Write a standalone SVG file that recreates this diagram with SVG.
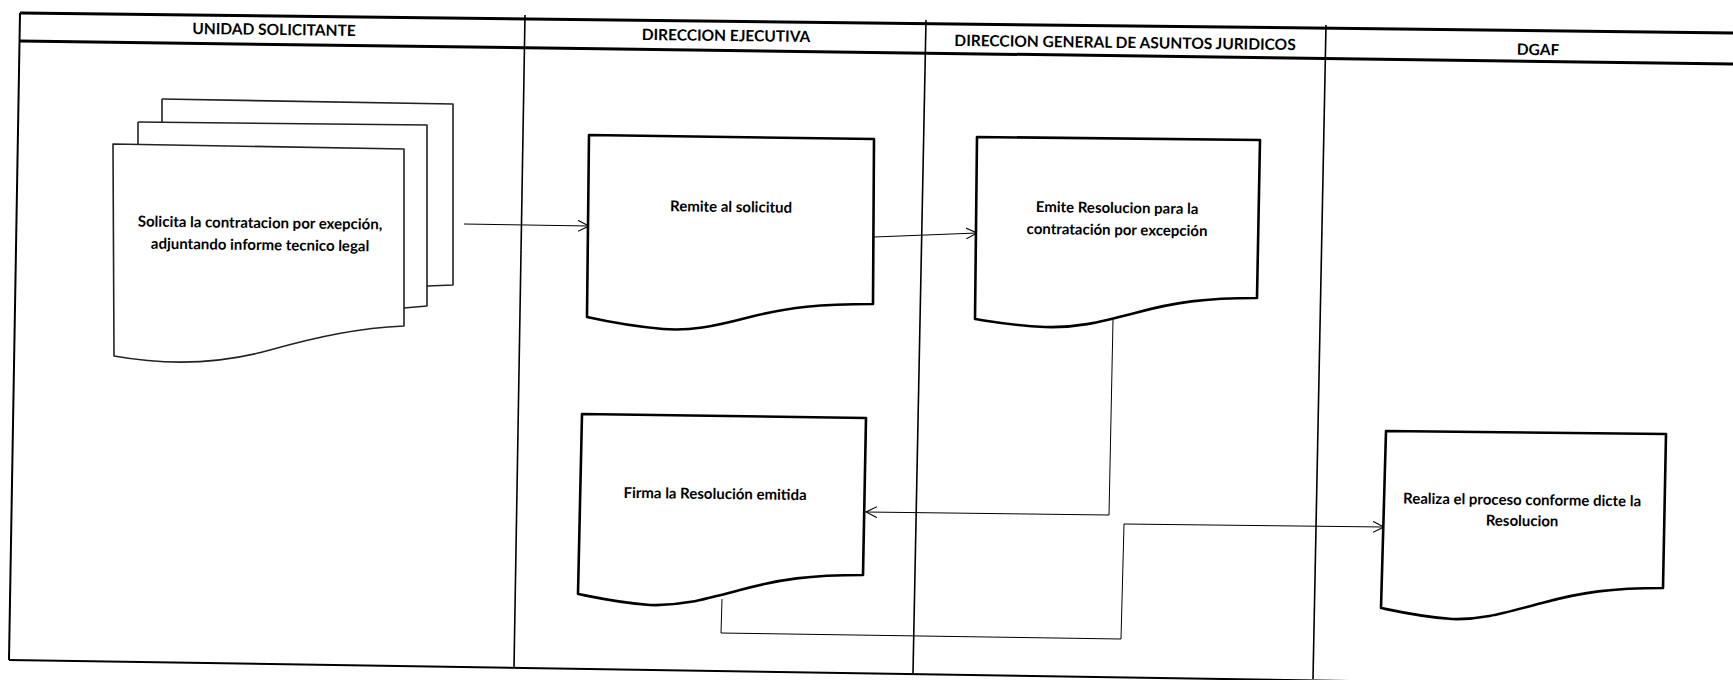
<svg xmlns="http://www.w3.org/2000/svg" width="1733" height="680" viewBox="0 0 1733 680">
  <defs>
    <marker id="open-arrow" viewBox="0 0 12 12" refX="11" refY="6" markerWidth="12" markerHeight="12" markerUnits="userSpaceOnUse" orient="auto">
      <path d="M0,0.5 L11,6 L0,11.5" fill="none" stroke="#000" stroke-width="1.1"/>
    </marker>
  </defs>
  <style>
    .frame { fill: none; stroke: #000; stroke-width: 2; }
    .band { fill: none; stroke: #000; stroke-width: 3; }
    .lane { fill: none; stroke: #000; stroke-width: 1.6; }
    .doc { fill: #fff; stroke: #000; stroke-width: 2.6; stroke-linejoin: round; }
    .doc-rough { fill: #fff; stroke: #222; stroke-width: 1.6; stroke-linejoin: round; }
    .flow { fill: none; stroke: #000; stroke-width: 1; marker-end: url(#open-arrow); }
    .head { font-family: Lato, "Liberation Sans", sans-serif; font-weight: bold; font-size: 15.5px; fill: #000; text-anchor: middle; }
    .label { font-family: Lato, "Liberation Sans", sans-serif; font-weight: bold; font-size: 15px; fill: #000; text-anchor: middle; }
  </style>
  <rect width="1733" height="680" fill="#fff"/>

  <!-- swimlane frame -->
  <g id="lanes">
    <path class="band" d="M20,13 L1733,33"/>
    <path class="band" d="M20,41 L1733,64"/>
    <path class="frame" d="M20,13 L9,660"/>
    <path class="frame" d="M9,660 L1733,687"/>
    <path class="lane" d="M525,15 L514,668"/>
    <path class="lane" d="M926,20 L913,673"/>
    <path class="lane" d="M1326,25 L1313,679"/>
    <text class="head" x="274" y="35" transform="rotate(0.7 274 35)">UNIDAD SOLICITANTE</text>
    <text class="head" x="726" y="41" transform="rotate(0.7 726 41)">DIRECCION EJECUTIVA</text>
    <text class="head" x="1125" y="48" transform="rotate(0.7 1125 48)">DIRECCION GENERAL DE ASUNTOS JURIDICOS</text>
    <text class="head" x="1538" y="55" transform="rotate(0.7 1538 55)">DGAF</text>
  </g>

  <!-- connectors -->
  <g id="connectors">
    <path class="flow" d="M464,224 L589,226"/>
    <path class="flow" d="M874,237 L977,233"/>
    <path class="flow" d="M1113,320 L1109,515 L866,512"/>
    <path class="flow" d="M722,599 L721,633 L1121,639 L1124,524 L1384,527"/>
  </g>

  <!-- multi-document: solicitud -->
  <g id="node-solicita">
    <path class="doc-rough" d="M162,99 L453,104 L453,285 L427,286"/>
    <path class="doc-rough" d="M162,99 L162,122"/>
    <path class="doc-rough" d="M138,122 L427,125 L427,306 L404,308"/>
    <path class="doc-rough" d="M138,122 L138,144"/>
    <path class="doc-rough" d="M113,144 L404,149 L404,326 C360,328 320,336 270,350 C220,364 170,366 114,356 Z"/>
    <text class="label" x="260" y="228" transform="rotate(0.7 260 228)">Solicita la contratacion por exepción,</text>
    <text class="label" x="260" y="250" transform="rotate(0.7 260 250)">adjuntando informe tecnico legal</text>
  </g>

  <g id="node-remite">
    <path class="doc" d="M589,135 L874,139 L873,304 C820,304 790,307 750,317 C712,327 690,331 663,329 C630,326 605,321 587,317 Z"/>
    <text class="label" x="731" y="212" transform="rotate(0.7 731 212)">Remite al solicitud</text>
  </g>

  <g id="node-emite">
    <path class="doc" d="M977,137 L1260,140 L1257,298 C1205,298 1175,302 1135,313 C1097,323 1075,328 1045,327 C1015,326 995,322 975,319 Z"/>
    <text class="label" x="1117" y="213" transform="rotate(0.7 1117 213)">Emite Resolucion para la</text>
    <text class="label" x="1117" y="235" transform="rotate(0.7 1117 235)">contratación por excepción</text>
  </g>

  <g id="node-firma">
    <path class="doc" d="M582,414 L866,418 L863,575 C810,575 780,579 740,590 C702,600 680,606 650,605 C620,603 598,598 578,594 Z"/>
    <text class="label" x="715" y="499" transform="rotate(0.7 715 499)">Firma la Resolución emitida</text>
  </g>

  <g id="node-realiza">
    <path class="doc" d="M1386,431 L1666,434 L1663,588 C1612,588 1582,592 1542,603 C1504,613 1482,620 1452,619 C1422,617 1400,612 1381,608 Z"/>
    <text class="label" x="1522" y="505" transform="rotate(0.7 1522 505)">Realiza el proceso conforme dicte la</text>
    <text class="label" x="1522" y="526" transform="rotate(0.7 1522 526)">Resolucion</text>
  </g>
</svg>
